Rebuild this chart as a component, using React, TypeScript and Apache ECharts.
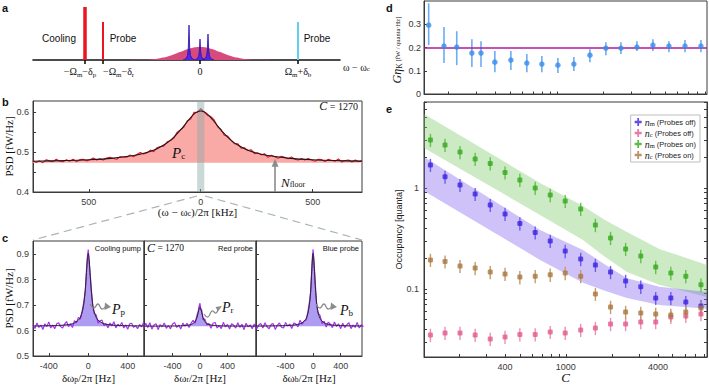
import React, { useEffect, useRef } from "react";
import * as echarts from "echarts";

const SANS = "'Liberation Sans', Arial, Helvetica, sans-serif";
const SERIF = "'Liberation Serif', 'DejaVu Serif', 'Times New Roman', serif";
const AXIS = "#3a3a3a";

// ===== Panel a : schematic spectrum (axis units ~ px offsets from cavity) =====
const aTickValues = [-115, -97, 0, 98];
const aCenterLabelValues = [-115, 0, 98];
const aCenterLabels = ["−Ω{s|m}−δ{s|p}{r|}", "0", "Ω{s|m}+δ{s|b}"];
const aLeftLabelValues = [-97];
const aLeftLabels = ["−Ω{s|m}−δ{s|r}"];
const aCoolingPump = [-115, 53];
const aRedProbe = [-97, 38];
const aBlueProbe = [98, 38];
const aCavityX = [-70, -60, -50, -40, -30, -20, -10, 0, 10, 20, 30, 40, 50, 60, 70];
const aCavityY = [0.03, 0.14, 0.57, 1.8, 4.2, 7.9, 11.5, 13, 11.5, 7.9, 4.2, 1.8, 0.57, 0.14, 0.03];
const aSideLX = [-17, -14, -12.5, -11.7, -11, -10.3, -9.5, -8, -5];
const aSideLY = [0, 1.5, 4.5, 12, 35, 12, 4.5, 1.5, 0];
const aMechX = [-5, -3, -1.5, -0.7, 0, 0.7, 1.5, 3, 5];
const aMechY = [0, 1.2, 3.5, 8, 21, 8, 3.5, 1.2, 0];
const aSideRX = [2, 5, 6.5, 7.3, 8, 8.7, 9.5, 11, 14];
const aSideRY = [0, 1.3, 4, 10, 26, 10, 4, 1.3, 0];

// ===== Panel b : cavity PSD =====
const bFreq = [-750,-735,-720,-705,-690,-675,-660,-645,-630,-615,-600,-585,-570,-555,-540,-525,-510,-495,-480,-465,-450,-435,-420,-405,-390,-375,-360,-345,-330,-315,-300,-285,-270,-255,-240,-225,-210,-195,-180,-165,-150,-135,-120,-105,-90,-75,-60,-45,-30,-15,0,15,30,45,60,75,90,105,120,135,150,165,180,195,210,225,240,255,270,285,300,315,330,345,360,375,390,405,420,435,450,465,480,495,510,525,540,555,570,585,600,615,630,645,660,675,690,705,720];
const bPsd = [0.479,0.474,0.478,0.4735,0.481,0.478,0.476,0.482,0.477,0.476,
  0.481,0.477,0.482,0.476,0.481,0.482,0.478,0.481,0.485,0.480,
  0.483,0.480,0.485,0.487,0.484,0.482,0.4885,0.4875,0.487,0.493,
  0.488,0.494,0.499,0.495,0.498,0.505,0.501,0.511,0.514,0.515,
  0.526,0.529,0.535,0.550,0.556,0.563,0.5785,0.583,0.600,0.599,
  0.609,0.600,0.592,0.589,0.5805,0.564,0.557,0.542,0.540,0.530,
  0.521,0.521,0.510,0.511,0.504,0.506,0.496,0.498,0.493,0.496,
  0.487,0.492,0.4886,0.4845,0.4895,0.487,0.483,0.488,0.482,0.480,
  0.484,0.480,0.484,0.480,0.477,0.482,0.481,0.4765,0.482,0.479,
  0.477,0.483,0.475,0.479,0.480,0.475,0.480,0.4765,0.478];
const bFitFreq = [-750,-600,-500,-400,-300,-250,-200,-160,-140,-120,-100,-90,-75,-60,-45,-30,-15,0,15,30,45,60,75,90,100,120,140,160,200,250,300,400,500,600,720];
const bFitPsd = [0.4771,0.4788,0.4808,0.4843,0.4913,0.4975,0.5073,0.5194,0.5276,0.5374,0.5491,0.5556,0.5658,0.5765,0.5866,0.5952,0.601,0.603,0.601,0.5952,0.5866,0.5765,0.5658,0.5556,0.5491,0.5374,0.5276,0.5194,0.5073,0.4975,0.4913,0.4843,0.4808,0.4788,0.4773];
const bYRange = [0.4, 0.628];
const bFloor = 0.473;
const bZoomBand = [-16, 16];
const bFloorArrowX = 332;
const bXTicks = [-500, 0, 500];
const bXLabels = ["500", "0", "500"];
const bYTicks = [0.4, 0.45, 0.5, 0.55, 0.6];
const bYLabels = [0.4, 0.5, 0.6];

// ===== Panel c : tone PSDs =====
const c1Freq = [-560,-540,-520,-500,-480,-460,-440,-420,-400,-380,-360,-340,-320,-300,-280,-260,-240,-220,-200,-180,-160,-140,-120,-100,-80,-60,-45,-30,-20,-10,0,10,20,30,45,60,80,100,120,140,160,180,200,220,240,260,280,300,320,340,360,380,400,420,440,460,480,500,520,540,560];
const c1Psd = [0.6228,0.6079,0.6299,0.612,0.6211,0.6042,0.6263,0.6155,0.6336,0.6098,0.621,0.6072,0.6265,0.6298,0.6152,0.6097,0.6254,0.6352,0.6153,0.6257,0.6117,0.6385,0.6298,0.6515,0.6451,0.68,
  0.7127,0.7545,0.8243,0.8855,0.917,0.8655,0.8203,0.7685,0.6947,
  0.668,0.6611,0.6285,0.6378,0.6405,0.6187,0.6267,0.6103,0.6292,0.6184,0.6347,0.6102,0.6248,0.6175,0.6312,0.61,0.6218,0.6046,0.6265,0.6283,0.6122,0.6191,0.607,0.6239,0.6139,0.6308];
const c1FitFreq = [-560,-300,-200,-150,-100,-80,-60,-45,-30,-20,-10,0,10,20,30,45,60,80,100,150,200,300,565];
const c1FitPsd = [0.6178,0.6198,0.6233,0.628,0.6405,0.652,0.674,0.7047,0.7595,0.8143,0.8735,0.902,0.8735,0.8143,0.7595,0.7047,0.674,0.652,0.6405,0.628,0.6233,0.6198,0.6178];
const c2Freq = [-820,-790,-760,-730,-700,-670,-640,-610,-580,-550,-520,-490,-460,-430,-400,-370,-340,-310,-280,-250,-220,-190,-160,-130,-100,-70,-45,-25,-10,0,10,25,45,70,100,130,160,190,220,250,280,310,340,370,400,430,460,490,520,550,580,610,640,670,700,730,760,790,820];
const c2Psd = [0.6092,0.6282,0.6122,0.6302,0.6052,0.6213,0.6263,0.6033,0.6234,0.6144,0.6294,0.6085,0.6196,0.6066,0.6247,0.6319,0.612,0.6212,0.6055,0.6289,0.6174,0.6282,0.6114,0.6285,0.6393,0.6285,
  0.6591,0.6769,0.6996,0.707,0.6826,0.6809,0.6421,
  0.6455,0.6213,0.6275,0.6084,0.6282,0.6314,0.6099,0.6195,0.6072,0.632,0.6139,0.6237,0.6056,0.6266,0.6205,0.6094,0.6304,0.6124,0.6243,0.6033,0.6283,0.6142,0.6222,0.6072,0.6252,0.6112];
const c2FitFreq = [-815,-400,-250,-160,-100,-70,-45,-25,-10,0,10,25,45,70,100,160,250,400,815];
const c2FitPsd = [0.6172,0.6177,0.6189,0.6214,0.6273,0.6355,0.6501,0.6709,0.6876,0.692,0.6876,0.6709,0.6501,0.6355,0.6273,0.6214,0.6189,0.6177,0.6172];
const c3Freq = [-850,-820,-790,-760,-730,-700,-670,-640,-610,-580,-550,-520,-490,-460,-430,-400,-370,-340,-310,-280,-250,-220,-190,-160,-130,-100,-70,-50,-35,-20,-10,0,10,20,35,50,70,100,130,160,190,220,250,280,310,340,370,400,430,460,490,520,550,580,610,640,670,700,730];
const c3Psd = [0.6245,0.6055,0.6216,0.6276,0.6097,0.6307,0.6148,0.6069,0.6239,0.627,0.6042,0.6203,0.6295,0.6126,0.6099,0.6312,0.6175,0.625,0.6076,0.6294,0.6255,0.614,0.6403,0.625,0.6372,0.6409,0.684,
  0.7188,0.7535,0.8438,0.8905,0.918,0.8715,0.8368,0.7675,0.7038,
  0.669,0.6589,0.6272,0.636,0.6133,0.633,0.6245,0.6114,0.6336,0.616,0.6265,0.6072,0.6289,0.6116,0.6225,0.6303,0.6072,0.621,0.6119,0.6319,0.6098,0.6227,0.6147];
const c3FitFreq = [-830,-400,-250,-160,-100,-70,-50,-35,-20,-10,0,10,20,35,50,70,100,160,250,400,710];
const c3FitPsd = [0.6175,0.6192,0.6225,0.630,0.6479,0.674,0.7108,0.7595,0.8318,0.8805,0.902,0.8805,0.8318,0.7595,0.7108,0.674,0.6479,0.630,0.6225,0.6192,0.6177];
const cFloor = 0.617;
const cXTicks = [-400, 0, 400];
const cYTicks = [0.5, 0.6, 0.7, 0.8, 0.9];

// ===== Panel d : G eta_K vs C =====
const dC = [149, 187, 226, 283, 324, 398, 505, 640, 800, 1015, 1287, 1633, 2070, 2588, 3282, 4160, 5280, 6700, 8490];
const dG = [0.296, 0.206, 0.202, 0.176, 0.176, 0.137, 0.146, 0.133, 0.129, 0.124, 0.129, 0.167, 0.197, 0.197, 0.202, 0.21, 0.206, 0.206, 0.206];
const dLo = [0.21, 0.133, 0.124, 0.116, 0.116, 0.094, 0.103, 0.094, 0.094, 0.09, 0.099, 0.137, 0.167, 0.172, 0.185, 0.185, 0.18, 0.18, 0.18];
const dHi = [0.39, 0.288, 0.27, 0.236, 0.227, 0.185, 0.185, 0.172, 0.163, 0.155, 0.159, 0.193, 0.223, 0.223, 0.227, 0.236, 0.227, 0.232, 0.232];
const dMean = 0.205;
const dXRange = [139, 9290];
const dYRange = [0, 0.4];
const dXTicks = [200, 300, 400, 500, 600, 700, 800, 900, 1000, 2000, 3000, 4000, 5000, 6000, 7000, 8000, 9000];
const dYTicks = [0, 0.1, 0.2, 0.3];
const dYLabels = ["0", "0.1", "0.2", "0.3"];

// ===== Panel e : occupancies vs C =====
const eC = [130, 162, 203, 255, 320, 400, 500, 630, 790, 990, 1250, 1560, 1960, 2460, 3090, 3870, 4860, 6090, 7650];
const eNmOff = [1.69, 1.29, 1.07, 0.872, 0.679, 0.553, 0.446, 0.362, 0.299, 0.238, 0.198, 0.173, 0.147, 0.12, 0.105, 0.0815, 0.0815, 0.0743, 0.0679];
const eNmOffErr = [0.25, 0.19, 0.16, 0.13, 0.10, 0.083, 0.067, 0.054, 0.045, 0.036, 0.03, 0.026, 0.022, 0.018, 0.016, 0.012, 0.012, 0.011, 0.010];
const eNcOff = [0.0351, 0.0367, 0.0367, 0.0351, 0.032, 0.0335, 0.0355, 0.0355, 0.0375, 0.0367, 0.0393, 0.0411, 0.045, 0.045, 0.0471, 0.0471, 0.0528, 0.054, 0.0565];
const eNcOffErr = [0.0053, 0.0055, 0.0055, 0.0053, 0.0048, 0.005, 0.0053, 0.0053, 0.0056, 0.0055, 0.0059, 0.0062, 0.0068, 0.0068, 0.0071, 0.0071, 0.0079, 0.0081, 0.0085];
const eNmOn = [2.99, 2.67, 2.27, 1.94, 1.75, 1.42, 1.20, 1.0, 0.853, 0.743, 0.62, 0.43, 0.32, 0.249, 0.212, 0.165, 0.144, 0.134, 0.110];
const eNmOnErr = [0.45, 0.40, 0.34, 0.29, 0.26, 0.21, 0.18, 0.15, 0.13, 0.11, 0.093, 0.065, 0.048, 0.037, 0.032, 0.025, 0.022, 0.02, 0.017];
const eNcOn = [0.194, 0.187, 0.169, 0.161, 0.147, 0.141, 0.131, 0.134, 0.138, 0.144, 0.134, 0.0892, 0.0664, 0.0592, 0.0578, 0.0565, 0.0553, 0.0592, 0.0649];
const eNcOnErr = [0.029, 0.028, 0.025, 0.024, 0.022, 0.021, 0.02, 0.02, 0.021, 0.022, 0.02, 0.013, 0.01, 0.009, 0.009, 0.0085, 0.0083, 0.009, 0.0097];
const eBandC = [118, 678, 1294, 1800, 2510, 4090, 8380];
const eGreenHi = [5.4, 1.12, 0.663, 0.482, 0.367, 0.249, 0.173];
const eGreenLo = [2.49, 0.541, 0.306, 0.208, 0.147, 0.11, 0.0834];
const ePurpleHi = [2.03, 0.384, 0.243, 0.175, 0.128, 0.105, 0.0934];
const ePurpleLo = [0.934, 0.194, 0.115, 0.096, 0.0812, 0.0694, 0.0636];
const eXTicks = [200, 300, 400, 500, 600, 700, 800, 900, 1000, 2000, 3000, 4000, 5000, 6000, 7000, 8000];
const eXLabels = [400, 1000, 4000];
const eYTicks = [0.03, 0.04, 0.05, 0.06, 0.07, 0.08, 0.09, 0.1, 0.2, 0.3, 0.4, 0.5, 0.6, 0.7, 0.8, 0.9, 1, 2, 3, 4, 5, 6, 7];
const eYLabels = [0.1, 1];
const eSeriesNames = ["nmOff", "ncOff", "nmOn", "ncOn"];
const eLegendLabels = ["{n|n}{s|m} (Probes off)", "{n|n}{s|c} (Probes off)", "{n|n}{s|m} (Probes on)", "{n|n}{s|c} (Probes on)"];

// ---------- layout ----------
const D_GRID = { left: 424, top: 1, width: 283, height: 93 };

// ---------- helpers ----------
const pairs = (xs: number[], ys: number[]) => xs.map((x, i) => [x, ys[i]]);
const subRich = (size: number) => ({ s: { fontFamily: SERIF, fontSize: size, verticalAlign: "bottom" } });
const tickStyle = (values: number[], len = 3) => ({
  show: true, inside: true, length: len, customValues: values,
  lineStyle: { color: AXIS, width: 1 },
});
const axisLineStyle = { show: true, onZero: false, lineStyle: { color: AXIS, width: 1 } };
const labelStyle = (values: number[], fmt: (v: number) => string, extra: any = {}) => ({
  show: true, customValues: values, formatter: fmt, fontFamily: SANS, fontSize: 9, color: AXIS,
  hideOverlap: false, ...extra,
});
const noLabel = () => ({ show: false });
const gridBox = (left: number, top: number, width: number, height: number, show = true) => ({
  left, top, width, height, show, borderColor: AXIS, borderWidth: 1, backgroundColor: "transparent",
  containLabel: false, outerBoundsMode: "none",
});

const errRender = (color: string, width: number) => (params: any, api: any) => {
  const x = api.value(0);
  const p1 = api.coord([x, api.value(1)]);
  const p2 = api.coord([x, api.value(2)]);
  return { type: "line", shape: { x1: p1[0], y1: p1[1], x2: p2[0], y2: p2[1] }, style: { stroke: color, lineWidth: width } };
};
const bandRender = (xs: number[], lo: number[], hi: number[], fill: string) => (params: any, api: any) => {
  if (params.dataIndex !== 0) return null;
  const pts: number[][] = [];
  xs.forEach((x, i) => pts.push(api.coord([x, hi[i]])));
  for (let i = xs.length - 1; i >= 0; i--) pts.push(api.coord([xs[i], lo[i]]));
  return { type: "polygon", shape: { points: pts }, style: { fill } };
};
const vBandRender = (yLo: number, yHi: number, fill: string) => (params: any, api: any) => {
  const p0 = api.coord([api.value(0), yHi]);
  const p1 = api.coord([api.value(1), yLo]);
  return { type: "rect", shape: { x: p0[0], y: p0[1], width: p1[0] - p0[0], height: p1[1] - p0[1] }, style: { fill } };
};

function txt(x: number, y: number, text: string, opts: any = {}, extra: any = {}) {
  return {
    type: "text", x, y, z: 60, silent: true, ...extra,
    style: { text, fill: "#111", fontFamily: SANS, fontSize: 10, align: "left", verticalAlign: "middle", ...opts },
  };
}
function squiggle(points: number[][], head: number[][]) {
  return [
    { type: "polyline", z: 60, silent: true, shape: { points, smooth: 0.5 }, style: { stroke: "#8c8c8c", lineWidth: 1.3, fill: null } },
    { type: "polygon", z: 60, silent: true, shape: { points: head }, style: { fill: "#8c8c8c" } },
  ];
}

function buildOption(): any {
  const eColors = ["#3b22e0", "#e2598f", "#36a91d", "#a8773e"];
  const eErrColors = ["#6d5cf0", "#ee90b5", "#66c24d", "#c39d6e"];
  const eVals = [eNmOff, eNcOff, eNmOn, eNcOn];
  const eErrs = [eNmOffErr, eNcOffErr, eNmOnErr, eNcOnErr];

  const cAxisNames = ["δω{s|p}/2π [Hz]", "δω{s|r}/2π [Hz]", "δω{s|b}/2π [Hz]"];
  const cRanges = [[-560, 565], [-815, 815], [-830, 710]];
  const aLabelBase = { fontFamily: SERIF, fontSize: 10, color: "#111", lineHeight: 13, margin: 5, hideOverlap: false };

  const xAxis: any[] = [
    { // a (ticks + centred labels)
      type: "value", gridIndex: 0, min: -167, max: 140, position: "bottom",
      axisLine: { show: true, onZero: false, lineStyle: { color: "#111", width: 1.6 } },
      axisTick: { show: true, inside: false, length: 4, customValues: aTickValues, lineStyle: { color: "#111", width: 1.6 } },
      axisLabel: {
        show: true, customValues: aCenterLabelValues, ...aLabelBase,
        formatter: (v: number) => aCenterLabels[aCenterLabelValues.indexOf(v)] ?? "",
        rich: { ...subRich(7), r: { width: 10 } },
      },
      splitLine: { show: false },
    },
    { // b
      type: "value", gridIndex: 1, min: -749, max: 720,
      axisLine: axisLineStyle, axisTick: tickStyle(bXTicks),
      axisLabel: labelStyle(bXTicks, (v: number) => bXLabels[bXTicks.indexOf(v)] ?? "", { margin: 5 }),
      splitLine: { show: false },
      name: "(ω − ω{s|c})/2π [kHz]", nameLocation: "middle", nameGap: 14, nameMoveOverlap: false,
      nameTextStyle: { fontFamily: SERIF, fontSize: 11, color: "#111", rich: subRich(7.5) },
    },
    ...[0, 1, 2].map((k) => ({
      type: "value", gridIndex: 2 + k, min: cRanges[k][0], max: cRanges[k][1],
      axisLine: axisLineStyle, axisTick: tickStyle(cXTicks),
      axisLabel: labelStyle(cXTicks, (v: number) => String(v), { margin: 5 }),
      splitLine: { show: false },
      name: cAxisNames[k], nameLocation: "middle", nameGap: 16, nameMoveOverlap: false,
      nameTextStyle: { fontFamily: SERIF, fontSize: 11, color: "#111", rich: subRich(7.5) },
    })),
    { // d
      type: "log", logBase: 10, gridIndex: 5, min: dXRange[0], max: dXRange[1], position: "bottom",
      axisLine: axisLineStyle, axisTick: tickStyle(dXTicks, 2.5), axisLabel: noLabel(),
      splitLine: { show: false }, minorTick: { show: false },
    },
    { // e
      type: "log", logBase: 10, gridIndex: 6, min: 118, max: 8380, position: "bottom",
      axisLine: axisLineStyle, axisTick: tickStyle(eXTicks, 3),
      axisLabel: labelStyle(eXLabels, (v: number) => String(Math.round(v)), { margin: 5 }),
      splitLine: { show: false }, minorTick: { show: false },
      name: "C", nameLocation: "middle", nameGap: 14, nameMoveOverlap: false,
      nameTextStyle: { fontFamily: SERIF, fontStyle: "italic", fontSize: 13, color: "#111" },
    },
    { // a (left-aligned label for the red probe tick)
      type: "value", gridIndex: 0, min: -167, max: 140, position: "bottom",
      axisLine: { show: false, onZero: false }, axisTick: { show: false },
      axisLabel: {
        show: true, customValues: aLeftLabelValues, ...aLabelBase, align: "left",
        formatter: (v: number) => aLeftLabels[aLeftLabelValues.indexOf(v)] ?? "",
        rich: subRich(7),
      },
      splitLine: { show: false },
    },
  ];

  const yAxis: any[] = [
    { type: "value", gridIndex: 0, min: 0, max: 55, show: false },
    { // b
      type: "value", gridIndex: 1, min: bYRange[0], max: bYRange[1],
      axisLine: axisLineStyle, axisTick: tickStyle(bYTicks),
      axisLabel: labelStyle(bYLabels, (v: number) => v.toFixed(1), { margin: 4 }),
      splitLine: { show: false },
      name: "PSD [fW/Hz]", nameLocation: "middle", nameGap: 19, nameMoveOverlap: false,
      nameTextStyle: { fontFamily: SERIF, fontSize: 11, color: "#111" },
    },
    ...[0, 1, 2].map((k) => ({
      type: "value", gridIndex: 2 + k, min: 0.5, max: 0.951,
      axisLine: axisLineStyle, axisTick: tickStyle(cYTicks),
      axisLabel: k === 0 ? labelStyle(cYTicks, (v: number) => v.toFixed(1), { margin: 4 }) : noLabel(),
      splitLine: { show: false },
      ...(k === 0 ? {
        name: "PSD [fW/Hz]", nameLocation: "middle", nameGap: 19, nameMoveOverlap: false,
        nameTextStyle: { fontFamily: SERIF, fontSize: 11, color: "#111" },
      } : {}),
    })),
    { // d
      type: "value", gridIndex: 5, min: dYRange[0], max: dYRange[1], position: "left",
      axisLine: axisLineStyle, axisTick: tickStyle(dYTicks), axisLabel: noLabel(),
      splitLine: { show: false },
    },
    { // e
      type: "log", logBase: 10, gridIndex: 6, min: 0.0212, max: 7.1, position: "left",
      axisLine: axisLineStyle, axisTick: tickStyle(eYTicks, 3),
      axisLabel: labelStyle(eYLabels, (v: number) => String(+v.toPrecision(2)), { margin: 5 }),
      splitLine: { show: false }, minorTick: { show: false },
      name: "Occupancy [quanta]", nameLocation: "middle", nameGap: 21, nameMoveOverlap: false,
      nameTextStyle: { fontFamily: SANS, fontSize: 9, color: "#222" },
    },
    { // e mirror
      type: "log", logBase: 10, gridIndex: 6, min: 0.0212, max: 7.1, position: "right",
      axisLine: axisLineStyle, axisTick: tickStyle(eYTicks, 3), axisLabel: noLabel(),
      splitLine: { show: false }, minorTick: { show: false },
    },
  ];

  const series: any[] = [];
  // --- panel a
  series.push({
    type: "line", xAxisIndex: 0, yAxisIndex: 0, data: pairs(aCavityX, aCavityY), smooth: true,
    symbol: "none", lineStyle: { width: 0 }, areaStyle: { color: "#d64a7e", opacity: 1 }, z: 2,
  });
  [[aSideLX, aSideLY], [aMechX, aMechY], [aSideRX, aSideRY]].forEach(([xs, ys]) => {
    series.push({
      type: "line", xAxisIndex: 0, yAxisIndex: 0, data: pairs(xs, ys), symbol: "none",
      lineStyle: { width: 0.8, color: "#2a0fb0" }, areaStyle: { color: "#4d26e6", opacity: 1 }, z: 3,
    });
  });
  const vbar = (p: number[], color: string, w: number) => ({
    type: "line", xAxisIndex: 0, yAxisIndex: 0, data: [[p[0], 0], [p[0], p[1]]], symbol: "none",
    lineStyle: { color, width: w, cap: "butt" }, z: 3,
  });
  series.push(vbar(aCoolingPump, "#ea1520", 3.5));
  series.push(vbar(aRedProbe, "#ea1520", 2));
  series.push(vbar(aBlueProbe, "#62cff0", 2));

  // --- panel b
  series.push({
    type: "line", xAxisIndex: 1, yAxisIndex: 1, data: pairs(bFreq, bPsd), symbol: "none",
    lineStyle: { color: "#e8122b", width: 1.1 }, areaStyle: { color: "#f9aaa6", opacity: 1, origin: bFloor }, z: 2,
  });
  series.push({
    type: "custom", xAxisIndex: 1, yAxisIndex: 1, silent: true, clip: true,
    data: [[bZoomBand[0], bZoomBand[1]]], encode: { x: [0, 1] },
    renderItem: vBandRender(bYRange[0], bYRange[1], "rgba(140,168,168,0.45)"), z: 3,
  });
  series.push({
    type: "line", xAxisIndex: 1, yAxisIndex: 1, data: pairs(bFitFreq, bFitPsd), symbol: "none", smooth: 0.3,
    lineStyle: { color: "#1a1a1a", width: 1.1 }, z: 4,
    markLine: {
      silent: true, symbol: ["none", "triangle"], symbolSize: [7, 8],
      lineStyle: { color: "#8c8c8c", width: 1.6, type: "solid" }, label: { show: false },
      data: [[{ coord: [bFloorArrowX, bYRange[0]] }, { coord: [bFloorArrowX, bFloor] }]],
    },
  });

  // --- panel c
  const cSets = [
    [c1Freq, c1Psd, c1FitFreq, c1FitPsd],
    [c2Freq, c2Psd, c2FitFreq, c2FitPsd],
    [c3Freq, c3Psd, c3FitFreq, c3FitPsd],
  ];
  cSets.forEach(([fx, fy, gx, gy], k) => {
    series.push({
      type: "line", xAxisIndex: 2 + k, yAxisIndex: 2 + k, data: pairs(gx, gy), symbol: "none", smooth: 0.25,
      lineStyle: { width: 0 }, areaStyle: { color: "#ae9cf2", opacity: 1, origin: cFloor }, z: 2,
    });
    series.push({
      type: "line", xAxisIndex: 2 + k, yAxisIndex: 2 + k, data: pairs(fx, fy), symbol: "none",
      lineStyle: { color: "#a21cf0", width: 1.2, opacity: 0.9 }, z: 3,
    });
    series.push({
      type: "line", xAxisIndex: 2 + k, yAxisIndex: 2 + k, data: pairs(gx, gy), symbol: "none", smooth: 0.25,
      lineStyle: { color: "#262626", width: 1 }, z: 4,
    });
  });

  // --- panel d
  series.push({
    type: "custom", xAxisIndex: 5, yAxisIndex: 5, data: dC.map((c, i) => [c, dLo[i], dHi[i]]),
    encode: { x: 0, y: [1, 2] }, renderItem: errRender("#6cacf2", 1.6), z: 3,
  });
  series.push({
    type: "scatter", xAxisIndex: 5, yAxisIndex: 5, data: pairs(dC, dG), symbol: "circle", symbolSize: 5.5,
    itemStyle: { color: "#3a8de8" }, z: 5,
    markLine: {
      silent: true, symbol: "none", lineStyle: { color: "#b3169f", width: 1.6, type: "solid" },
      label: { show: false }, data: [{ yAxis: dMean }], z: 4,
    },
  });

  // --- panel e
  series.push({
    type: "custom", xAxisIndex: 6, yAxisIndex: 6, data: eBandC.map((c, i) => [c, eGreenLo[i], eGreenHi[i]]),
    encode: { x: 0, y: [1, 2] }, renderItem: bandRender(eBandC, eGreenLo, eGreenHi, "rgba(120,200,100,0.38)"), z: 1, clip: true,
  });
  series.push({
    type: "custom", xAxisIndex: 6, yAxisIndex: 6, data: eBandC.map((c, i) => [c, ePurpleLo[i], ePurpleHi[i]]),
    encode: { x: 0, y: [1, 2] }, renderItem: bandRender(eBandC, ePurpleLo, ePurpleHi, "rgba(125,95,240,0.38)"), z: 1, clip: true,
  });
  eVals.forEach((vals, k) => {
    series.push({
      type: "custom", xAxisIndex: 6, yAxisIndex: 6,
      data: eC.map((c, i) => [c, vals[i] - eErrs[k][i], vals[i] + eErrs[k][i]]),
      encode: { x: 0, y: [1, 2] }, renderItem: errRender(eErrColors[k], 1.4), z: 3,
    });
    series.push({
      name: eSeriesNames[k], type: "scatter", xAxisIndex: 6, yAxisIndex: 6, data: pairs(eC, vals),
      symbol: "roundRect", symbolSize: 5, itemStyle: { color: eColors[k] }, z: 5,
    });
  });

  const subs = (pSize: number, sSize: number) => ({
    p: { fontFamily: SERIF, fontStyle: "italic", fontSize: pSize, fill: "#111" },
    s: { fontFamily: SERIF, fontSize: sSize, verticalAlign: "bottom", fill: "#111" },
  });
  const cRich = { c: { fontFamily: SERIF, fontStyle: "italic" } };

  // panel d tick labels, placed with the same linear mapping as the d value axis
  const dTickLabelTexts = dYTicks.map((v, i) => ({
    type: "text", z: 100, zlevel: 1, silent: true,
    x: D_GRID.left - 3,
    y: D_GRID.top + D_GRID.height * (1 - (v - dYRange[0]) / (dYRange[1] - dYRange[0])),
    style: {
      text: dYLabels[i], fill: "#333333", fontFamily: "Arial, 'Liberation Sans', sans-serif",
      fontSize: 9, align: "right", verticalAlign: "middle",
    },
  }));

  const graphic: any[] = [
    txt(2, 2, "a", { fontWeight: "bold", fontSize: 11, verticalAlign: "top" }),
    txt(2, 96, "b", { fontWeight: "bold", fontSize: 11, verticalAlign: "top" }),
    txt(2, 232, "c", { fontWeight: "bold", fontSize: 11, verticalAlign: "top" }),
    txt(386, 2, "d", { fontWeight: "bold", fontSize: 11, verticalAlign: "top" }),
    txt(386, 103, "e", { fontWeight: "bold", fontSize: 11, verticalAlign: "top" }),
    txt(59, 38, "Cooling", { align: "center", fontSize: 10 }),
    txt(123, 38, "Probe", { align: "center", fontSize: 10 }),
    txt(317, 38, "Probe", { align: "center", fontSize: 10 }),
    txt(343, 67, "ω − ω{s|c}", { fontFamily: SERIF, fontSize: 10, rich: subRich(7) }),
    txt(358, 106, "{c|C} = 1270", { align: "right", fontFamily: SERIF, fontSize: 10, rich: cRich }),
    txt(172, 153, "{p|P}{s|c}", { fontFamily: SERIF, fontSize: 14, rich: subs(15, 9) }),
    txt(281, 182, "{p|N}{s|floor}", { fontFamily: SERIF, fontSize: 12, rich: subs(13, 8) }),
    txt(141, 248, "Cooling pump", { align: "right", fontSize: 7.5 }),
    txt(147, 248, "{c|C} = 1270", { fontFamily: SERIF, fontSize: 9.5, rich: cRich }),
    txt(253, 248, "Red probe", { align: "right", fontSize: 7.5 }),
    txt(359, 248, "Blue probe", { align: "right", fontSize: 7.5 }),
    txt(112, 309, "{p|P}{s|p}", { fontFamily: SERIF, fontSize: 13, rich: subs(14, 9) }),
    txt(222, 307, "{p|P}{s|r}", { fontFamily: SERIF, fontSize: 13, rich: subs(14, 9) }),
    txt(340, 310, "{p|P}{s|b}", { fontFamily: SERIF, fontSize: 13, rich: subs(14, 9) }),
    ...dTickLabelTexts,
    // panel d y-axis title (rotated)
    txt(397, 50, "{g|Gη}{k|K} {u|[fW / quanta·Hz]}", {
      align: "center", fontFamily: SERIF, fontSize: 8,
      rich: {
        g: { fontFamily: SERIF, fontStyle: "italic", fontSize: 12, fill: "#111" },
        k: { fontFamily: SERIF, fontSize: 7.5, verticalAlign: "bottom", fill: "#111" },
        u: { fontFamily: SERIF, fontSize: 6.5, fill: "#111" },
      },
    }, { rotation: Math.PI / 2 }),
    { type: "line", z: 60, silent: true, shape: { x1: 197, y1: 196, x2: 33, y2: 240 }, style: { stroke: "#a9b6b6", lineWidth: 1.2, lineDash: [8, 5] } },
    { type: "line", z: 60, silent: true, shape: { x1: 205, y1: 196, x2: 362, y2: 240 }, style: { stroke: "#a9b6b6", lineWidth: 1.2, lineDash: [8, 5] } },
    ...squiggle([[90, 304], [94, 308], [98, 304], [102, 309], [106, 306]], [[105, 302.5], [111, 307], [104.5, 310]]),
    ...squiggle([[204, 314], [208, 317], [212, 311], [216, 313], [218, 309]], [[215.5, 307], [222, 306], [218, 311.5]]),
    ...squiggle([[316, 304], [320, 308], [324, 304], [328, 309], [332, 306]], [[331, 302.5], [337, 307], [330.5, 310]]),
  ];

  return {
    animation: false,
    backgroundColor: "#ffffff",
    textStyle: { fontFamily: SANS },
    grid: [
      gridBox(33, 5, 307, 55, false),
      gridBox(33, 101, 329, 91),
      gridBox(33, 241, 111, 115),
      gridBox(144, 241, 112, 115),
      gridBox(256, 241, 106, 115),
      gridBox(D_GRID.left, D_GRID.top, D_GRID.width, D_GRID.height),
      gridBox(424, 102, 283, 255),
    ],
    xAxis, yAxis, series, graphic,
    legend: {
      show: true, selectedMode: false, orient: "vertical", right: 9, top: 115, z: 20,
      itemGap: 1, itemWidth: 7, itemHeight: 9,
      padding: [2, 4, 2, 4], backgroundColor: "#ffffff", borderColor: "#bdbdbd", borderWidth: 1, borderRadius: 0,
      data: eSeriesNames.map((n) => ({ name: n, icon: "path://M3,0H5V3H8V6H5V9H3V6H0V3H3Z" })),
      formatter: (name: string) => eLegendLabels[eSeriesNames.indexOf(name)],
      textStyle: {
        fontFamily: SANS, fontSize: 7.5, color: "#222", padding: [0, 0, 0, -2],
        rich: {
          n: { fontFamily: SERIF, fontStyle: "italic", fontSize: 10 },
          s: { fontFamily: SERIF, fontSize: 6.5, verticalAlign: "bottom" },
        },
      },
    },
  };
}

export default function App() {
  const ref = useRef<HTMLDivElement>(null);
  useEffect(() => {
    if (!ref.current) return;
    const chart = echarts.init(ref.current, null, { renderer: "svg" });
    chart.setOption(buildOption());
    return () => chart.dispose();
  }, []);
  return (
    <div
      ref={ref}
      style={{ position: "fixed", left: 0, top: 0, width: 709, height: 385, background: "#fff" }}
    />
  );
}
